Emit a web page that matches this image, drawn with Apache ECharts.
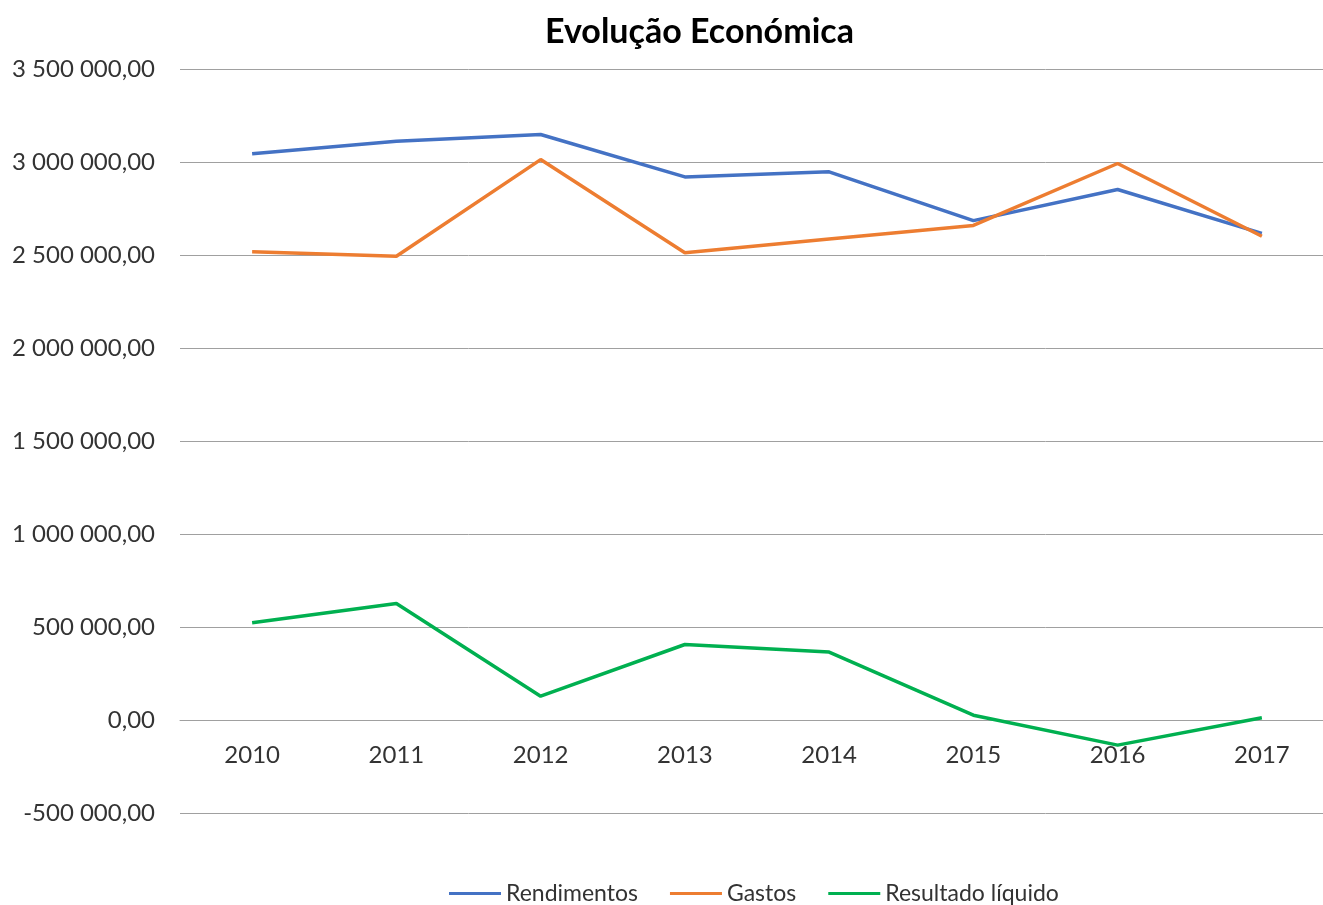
<!DOCTYPE html>
<html>
<head>
<meta charset="utf-8">
<script src="https://cdn.jsdelivr.net/npm/echarts@6/dist/echarts.min.js"></script>
<style>
  html, body { margin: 0; padding: 0; background: #fff; overflow: hidden; }
  /* plot area runs slightly past the right edge of the window */
  #chart { width: 1334px; height: 905px; }
</style>
</head>
<body>
<div id="chart"></div>
<script>
const years = ['2010', '2011', '2012', '2013', '2014', '2015', '2016', '2017'];
const rendimentos = [3044000, 3112000, 3148000, 2920000, 2947000, 2685000, 2852000, 2616000];
const gastos = [2517000, 2493000, 3013000, 2512000, 2586000, 2659000, 2992000, 2601000];
const resultado = [523000, 626000, 128000, 406000, 365000, 26000, -135000, 12000];

const FONT = 'Lato, "Open Sans", sans-serif';

// Portuguese number style: space thousands separator, comma decimals
function fmt(v) {
  const neg = v < 0;
  const s = Math.abs(v).toFixed(2).split('.');
  const int = s[0].replace(/\B(?=(\d{3})+(?!\d))/g, ' ');
  return (neg ? '-' : '') + int + ',' + s[1];
}

const chart = echarts.init(document.getElementById('chart'), null, { renderer: 'canvas' });
chart.setOption({
  animation: false,
  backgroundColor: '#ffffff',
  title: {
    text: 'Evolução Económica',
    left: 540,
    top: 10,
    textStyle: { fontFamily: FONT, fontSize: 34, fontWeight: 'bold', color: '#000' }
  },
  legend: {
    top: 877,
    left: 444,
    itemWidth: 52,
    itemHeight: 3,
    itemGap: 32,
    icon: 'rect',
    textStyle: { fontFamily: FONT, fontSize: 23, color: '#333' },
    data: ['Rendimentos', 'Gastos', 'Resultado líquido']
  },
  grid: { left: 180, top: 69, right: 0, height: 744, containLabel: false },
  xAxis: {
    type: 'category',
    data: years,
    boundaryGap: true,
    // category labels sit just under the zero line
    offset: -93,
    axisLine: { show: true, onZero: false, lineStyle: { color: '#a0a0a0', width: 1 } },
    axisTick: { show: false },
    axisLabel: { fontFamily: FONT, fontSize: 24, color: '#333', margin: 23 },
    splitLine: { show: false }
  },
  yAxis: {
    type: 'value',
    min: -500000,
    max: 3500000,
    interval: 500000,
    axisLine: { show: false },
    axisTick: { show: false },
    axisLabel: { fontFamily: FONT, fontSize: 24, color: '#333', margin: 25, formatter: fmt },
    splitLine: { lineStyle: { color: '#a0a0a0', width: 1 } }
  },
  series: [
    { name: 'Rendimentos', type: 'line', data: rendimentos, symbol: 'none',
      lineStyle: { color: '#4472C4', width: 3.5 }, itemStyle: { color: '#4472C4' } },
    { name: 'Gastos', type: 'line', data: gastos, symbol: 'none',
      lineStyle: { color: '#ED7D31', width: 3.5 }, itemStyle: { color: '#ED7D31' } },
    { name: 'Resultado líquido', type: 'line', data: resultado, symbol: 'none',
      lineStyle: { color: '#00B050', width: 3.5 }, itemStyle: { color: '#00B050' } }
  ]
});
</script>
</body>
</html>
